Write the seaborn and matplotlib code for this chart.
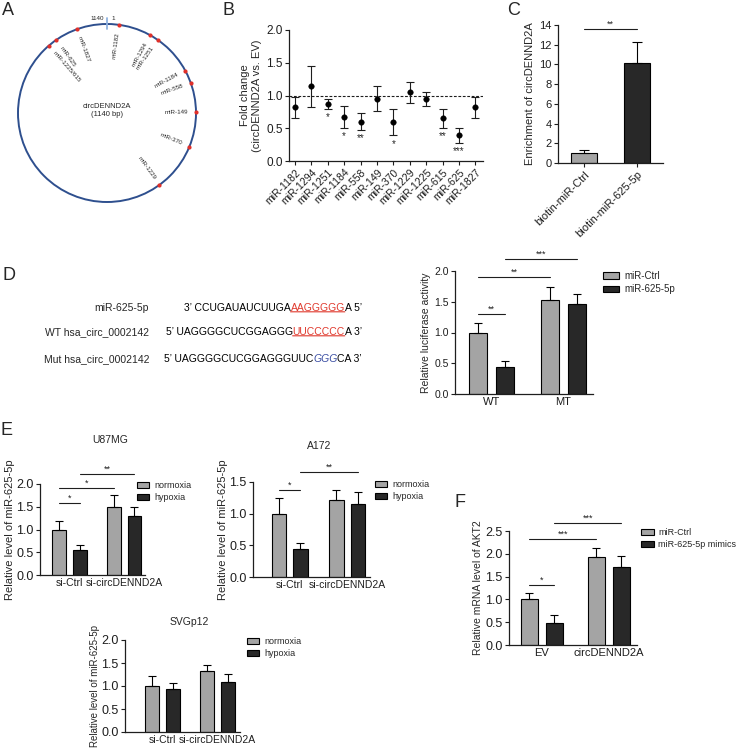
import numpy as np
import pandas as pd
import matplotlib
matplotlib.use('Agg')
import matplotlib.pyplot as plt
from matplotlib.patches import Circle, Patch
from matplotlib.ticker import FormatStrFormatter, MultipleLocator
import seaborn as sns

# ---------------- data ----------------
# A: predicted miRNA binding sites on circDENND2A (nt position on the 1140 nt circle)
circ_len = 1140
site_names = ['miR-1182', 'miR-1294', 'miR-1251', 'miR-1184', 'miR-558', 'miR-149',
              'miR-370', 'miR-1229', 'miR-1827', 'miR-625', 'miR-1225/615']
site_pos = [25, 92, 110, 195, 222, 282, 356, 456, 1077, 1029, 1010]

# B: fold change (circDENND2A vs EV)
b_names = ['miR-1182', 'miR-1294', 'miR-1251', 'miR-1184', 'miR-558', 'miR-149',
           'miR-370', 'miR-1229', 'miR-1225', 'miR-615', 'miR-625', 'miR-1827']
b_mean = [0.82, 1.14, 0.87, 0.67, 0.60, 0.95, 0.59, 1.05, 0.95, 0.65, 0.39, 0.82]
b_err = [0.16, 0.31, 0.07, 0.17, 0.13, 0.19, 0.20, 0.16, 0.11, 0.14, 0.11, 0.16]
b_stars = ['', '', '*', '*', '**', '', '*', '', '', '**', '***', '']

# C: pull-down enrichment
c_names = ['biotin-miR-Ctrl', 'biotin-miR-625-5p']
c_mean = [1.0, 10.15]
c_err = [0.30, 2.10]

# D: luciferase reporter
d_groups = ['WT', 'MT']
d_hues = ['miR-Ctrl', 'miR-625-5p']
d_mean = [[1.00, 0.44], [1.53, 1.47]]
d_err = [[0.16, 0.10], [0.21, 0.15]]

# E: miR-625-5p level under normoxia / hypoxia
e_groups = ['si-Ctrl', 'si-circDENND2A']
e_hues = ['normoxia', 'hypoxia']
u87_mean = [[1.00, 0.55], [1.50, 1.30]]
u87_err = [[0.18, 0.12], [0.26, 0.20]]
a172_mean = [[1.00, 0.45], [1.21, 1.16]]
a172_err = [[0.25, 0.09], [0.17, 0.19]]
svg_mean = [[1.00, 0.93], [1.32, 1.09]]
svg_err = [[0.22, 0.13], [0.13, 0.18]]

# F: AKT2 mRNA
f_groups = ['EV', 'circDENND2A']
f_hues = ['miR-Ctrl', 'miR-625-5p mimics']
f_mean = [[1.00, 0.49], [1.94, 1.70]]
f_err = [[0.15, 0.16], [0.18, 0.25]]

LIGHT = '#a4a4a4'
DARK = '#282828'
INK = '#1e1e1e'

sns.set_style('ticks')
plt.rcParams['font.family'] = ['Liberation Sans', 'DejaVu Sans']
plt.rcParams['axes.linewidth'] = 0.9
plt.rcParams['axes.edgecolor'] = INK

W, H = 739, 748
fig = plt.figure(figsize=(W / 100, H / 100), dpi=100)


def add_ax(l, t, r, b):
    return fig.add_axes([l / W, 1 - b / H, (r - l) / W, (b - t) / H])


def ftext(x, y, s, **kw):
    return fig.text(x / W, 1 - y / H, s, **kw)


def style_axis(ax, fs):
    sns.despine(ax=ax)
    ax.tick_params(axis='both', direction='out', length=3, width=0.8, colors=INK,
                   labelsize=fs, pad=1.5)


def add_legend(ax, labels, x, y, fs, hl=1.4, tp=0.6):
    handles = [Patch(facecolor=c, edgecolor='black', linewidth=0.8) for c in (LIGHT, DARK)]
    ax.legend(handles, labels, loc='upper left', bbox_to_anchor=(x / W, 1 - y / H),
              bbox_transform=fig.transFigure, frameon=False, borderpad=0, borderaxespad=0,
              handlelength=hl, handleheight=0.65, handletextpad=tp, labelspacing=0.35,
              fontsize=fs)


def grouped(ax, groups, hues, mean, err, ymax, xlim, fs, xfs, sig):
    df = pd.DataFrame({'group': np.repeat(groups, len(hues)),
                       'cond': hues * len(groups),
                       'value': np.ravel(mean)})
    sns.barplot(data=df, x='group', y='value', hue='cond', order=groups, hue_order=hues,
                palette=[LIGHT, DARK], width=0.75, gap=0.33, saturation=1,
                edgecolor='black', linewidth=0.8, errorbar=None, legend=False, ax=ax)
    centers = np.zeros((len(groups), len(hues)))
    for h, cont in enumerate(ax.containers):
        pats = sorted(cont.patches, key=lambda p: p.get_x())
        for g, p in enumerate(pats):
            centers[g, h] = p.get_x() + p.get_width() / 2
    m = np.asarray(mean)
    e = np.asarray(err)
    ax.errorbar(centers.ravel(), m.ravel(), yerr=[np.zeros(m.size), e.ravel()], fmt='none',
                ecolor='black', elinewidth=0.8, capsize=3, capthick=0.8, zorder=1)
    for (g1, h1), (g2, h2), y, txt in sig:
        ax.plot([centers[g1, h1], centers[g2, h2]], [y, y], color=INK, lw=0.8, clip_on=False)
        ax.text((centers[g1, h1] + centers[g2, h2]) / 2, y, txt, ha='center', va='bottom',
                fontsize=6.5, color=INK)
    ax.set_ylim(0, ymax)
    ax.set_xlim(*xlim)
    ax.yaxis.set_major_locator(MultipleLocator(0.5))
    ax.yaxis.set_major_formatter(FormatStrFormatter('%.1f'))
    ax.set_xlabel('')
    style_axis(ax, fs)
    ax.tick_params(axis='x', length=0, pad=2, labelsize=xfs)
    return centers


# ---------------- A: circle map ----------------
axA = add_ax(7, 13, 207, 213)
axA.set_xlim(-100, 100)
axA.set_ylim(-100, 100)
axA.axis('off')
R = 89
axA.add_patch(Circle((0, 0), R, fill=False, edgecolor='#2e4f8e', lw=1.4))
theta = np.deg2rad(np.asarray(site_pos) / circ_len * 360)
axA.scatter(R * np.sin(theta), R * np.cos(theta), s=9, color='#e0302a', zorder=3, lw=0)
for name, th in zip(site_names, theta):
    deg = np.rad2deg(th)
    if deg > 180:
        deg -= 360
    x, y = 81 * np.sin(th), 81 * np.cos(th)
    if deg >= 0:
        axA.text(x, y, name, rotation=90 - deg, rotation_mode='anchor', ha='right',
                 va='center', fontsize=4.5)
    else:
        axA.text(x, y, name, rotation=-90 - deg, rotation_mode='anchor', ha='left',
                 va='center', fontsize=4.5)
axA.plot([0, 0], [84, 95], color='#8fb2e0', lw=1.3)
axA.text(-3, 94, '1140', ha='right', va='center', fontsize=4.5)
axA.text(4, 94, '1', ha='left', va='center', fontsize=4.5)
axA.text(0, 7, 'circDENND2A', ha='center', va='center', fontsize=5.5)
axA.text(0, -2, '(1140 bp)', ha='center', va='center', fontsize=5.5)

# ---------------- B: fold change ----------------
axB = add_ax(289, 30, 483, 161)
xb = np.arange(len(b_names))
axB.axhline(1.0, ls='--', color=INK, lw=0.8, dashes=(2.5, 1.5))
axB.errorbar(xb, b_mean, yerr=b_err, fmt='none', ecolor=INK, elinewidth=0.8, capsize=3,
             capthick=0.8)
sns.scatterplot(x=xb, y=b_mean, color='black', s=16, edgecolor='black', ax=axB, zorder=3)
for i, s in enumerate(b_stars):
    if s:
        axB.text(i, b_mean[i] - b_err[i] - 0.05, s, ha='center', va='top', fontsize=7)
axB.set_xlim(-0.37, 11.46)
axB.set_ylim(0, 2)
axB.yaxis.set_major_locator(MultipleLocator(0.5))
axB.yaxis.set_major_formatter(FormatStrFormatter('%.1f'))
axB.set_xticks(xb)
axB.set_xticklabels(b_names, rotation=45, ha='right', rotation_mode='anchor')
style_axis(axB, 8.5)
axB.tick_params(axis='x', labelsize=7.5)
axB.set_ylabel('Fold change\n(circDENND2A vs. EV)', fontsize=8, labelpad=3)

# ---------------- C: enrichment ----------------
axC = add_ax(558, 25, 663, 163)
sns.barplot(x=c_names, y=c_mean, hue=c_names, palette=[LIGHT, DARK], width=0.49,
            saturation=1, edgecolor='black', linewidth=0.8, legend=False, ax=axC)
axC.errorbar([0, 1], c_mean, yerr=[[0, 0], c_err], fmt='none', ecolor='black',
             elinewidth=0.8, capsize=3.5, capthick=0.8, zorder=1)
axC.plot([0, 1], [13.6, 13.6], color=INK, lw=0.8, clip_on=False)
axC.text(0.5, 13.6, '**', ha='center', va='bottom', fontsize=6.5)
axC.set_ylim(0, 14)
axC.set_xlim(-0.49, 1.49)
axC.yaxis.set_major_locator(MultipleLocator(2))
axC.set_xticks([0, 1])
axC.set_xticklabels(c_names, rotation=45, ha='right', rotation_mode='anchor')
style_axis(axC, 8)
axC.set_ylabel('Enrichment of circDENND2A', fontsize=8, labelpad=3)

# ---------------- D: sequences ----------------
axDs = add_ax(0, 280, 400, 380)
axDs.set_xlim(0, 400)
axDs.set_ylim(380, 280)
axDs.axis('off')
RED = '#e03a2e'
BLUE = '#3b4ea3'
seq_rows = [
    ('miR-625-5p', 308, [('3\u2019 CCUGAUAUCUUGA', 'black', 'normal', False),
                         ('AAGGGGG', RED, 'normal', True),
                         ('A 5\u2019', 'black', 'normal', False)]),
    ('WT hsa_circ_0002142', 332, [('5\u2019 UAGGGGCUCGGAGGG', 'black', 'normal', False),
                                  ('UUCCCCC', RED, 'normal', True),
                                  ('A 3\u2019', 'black', 'normal', False)]),
    ('Mut hsa_circ_0002142', 359, [('5\u2019 UAGGGGCUCGGAGGGUUC', 'black', 'normal', False),
                                   ('GGG', BLUE, 'italic', False),
                                   ('CA 3\u2019', 'black', 'normal', False)]),
]
for label, y, segs in seq_rows:
    axDs.text(149, y, label, ha='right', va='center', fontsize=7.5)
    prev = None
    for txt, col, sty, und in reversed(segs):
        if prev is None:
            t = axDs.text(362, y, txt, ha='right', va='center', fontsize=7.5, color=col,
                          fontstyle=sty)
        else:
            t = axDs.annotate(txt, xy=(0, 0), xycoords=prev, ha='right', va='bottom',
                              fontsize=7.5, color=col, fontstyle=sty)
        if und:
            axDs.annotate('', xy=(1, 0.12), xycoords=t, xytext=(0, 0.12), textcoords=t,
                          arrowprops=dict(arrowstyle='-', color=col, lw=0.8,
                                          shrinkA=0, shrinkB=0))
        prev = t

# ---------------- D: luciferase ----------------
axD = add_ax(455, 271, 593, 394)
grouped(axD, d_groups, d_hues, d_mean, d_err, 2.0, (-0.51, 1.41), 7.5, 8,
        [((0, 0), (0, 1), 1.30, '**'), ((0, 0), (1, 0), 1.90, '**'),
         ((0, 1), (1, 1), 2.20, '***')])
axD.set_ylabel('Relative luciferase activity', fontsize=7.5, labelpad=2)
add_legend(axD, d_hues, 603, 271, 7, hl=1.6)

# ---------------- E ----------------
axE1 = add_ax(40, 484, 145, 575)
grouped(axE1, e_groups, e_hues, u87_mean, u87_err, 2.0, (-0.54, 1.38), 9, 7.5,
        [((0, 0), (0, 1), 1.59, '*'), ((0, 0), (1, 0), 1.92, '*'),
         ((0, 1), (1, 1), 2.23, '**')])
axE1.set_ylabel('Relative level of miR-625-5p', fontsize=8, labelpad=1)
add_legend(axE1, e_hues, 137, 481, 6.5, hl=1.3)
ftext(110, 440, 'U87MG', ha='center', va='center', fontsize=7.5)

axE2 = add_ax(253, 482, 370, 577)
grouped(axE2, e_groups, e_hues, a172_mean, a172_err, 1.5, (-0.64, 1.40), 9, 7.5,
        [((0, 0), (0, 1), 1.38, '*'), ((0, 1), (1, 1), 1.66, '**')])
axE2.set_ylabel('Relative level of miR-625-5p', fontsize=8, labelpad=1)
add_legend(axE2, e_hues, 375, 480, 6.5, hl=1.3)
ftext(319, 446, 'A172', ha='center', va='center', fontsize=7.5)

axE3 = add_ax(125, 640, 240, 732)
grouped(axE3, e_groups, e_hues, svg_mean, svg_err, 2.0, (-0.68, 1.41), 9, 7.5, [])
axE3.set_ylabel('Relative level of miR-625-5p', fontsize=7, labelpad=1)
add_legend(axE3, e_hues, 247, 637, 6.5, hl=1.3)
ftext(189, 622, 'SVGp12', ha='center', va='center', fontsize=7.5)

# ---------------- F ----------------
axF = add_ax(509, 531, 637, 645)
grouped(axF, f_groups, f_hues, f_mean, f_err, 2.5, (-0.49, 1.42), 9, 8,
        [((0, 0), (0, 1), 1.32, '*'), ((0, 0), (1, 0), 2.32, '***'),
         ((0, 1), (1, 1), 2.68, '***')])
axF.set_ylabel('Relative mRNA level of AKT2', fontsize=7.5, labelpad=1.5)
add_legend(axF, f_hues, 641, 528, 6.5, hl=1.4, tp=0.5)

# ---------------- panel letters ----------------
for letter, x, y in [('A', 2, 2), ('B', 222, 2), ('C', 507, 2), ('D', 2, 267),
                     ('E', 0, 422), ('F', 454, 494)]:
    ftext(x, y, letter, ha='left', va='top', fontsize=13)

fig.savefig('out.png', dpi=100)
